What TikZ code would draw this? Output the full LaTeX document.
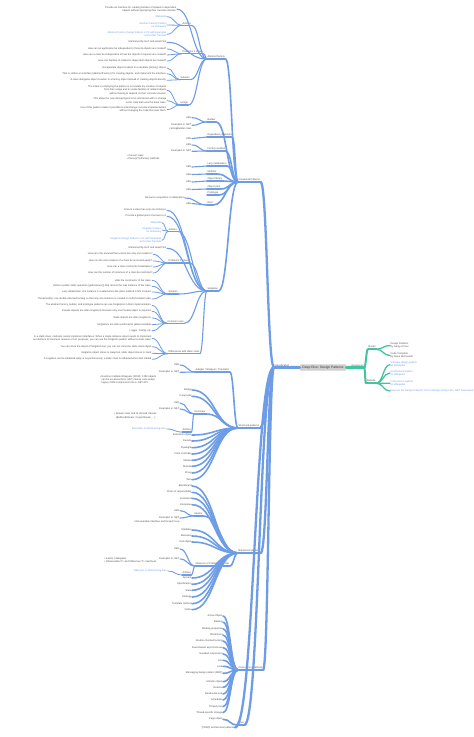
\documentclass[tikz,border=0pt]{standalone}
\usepackage{fontspec}
\setmainfont{Liberation Sans}
\usepackage{tikz}
\usetikzlibrary{calc,positioning}
\definecolor{lblue}{HTML}{6E9DE6}
\definecolor{mint}{HTML}{43C4A0}
\definecolor{ink}{HTML}{4E4E4E}
\definecolor{boxgray}{HTML}{CFCFCF}
\newcommand{\mapfont}{\fontsize{2.5}{3.2}\selectfont}

\begin{document}
\begin{tikzpicture}[x=1pt,y=-1pt,
  every node/.style={font=\mapfont,text=ink,inner sep=0.4pt},
  leaf/.style={anchor=east,align=right}, lnk/.style={leaf,text=lblue},
  rleaf/.style={anchor=west,align=left}, note/.style={anchor=north east,align=left},
  hub/.style={inner ysep=1pt,append after command={(\tikzlastnode.south west) edge[draw=lblue,line width=#1,line cap=round] (\tikzlastnode.south east)}}, hub/.default=1.1pt,
  rhub/.style={inner ysep=1pt,append after command={(\tikzlastnode.south west) edge[draw=mint,line width=#1,line cap=round] (\tikzlastnode.south east)}}, rhub/.default=1.1pt,
  link/.style={draw=lblue,line cap=round,to path={let \p1=(\tikztostart),\p2=(\tikztotarget) in .. controls ({(\x1+\x2)/2},\y1) and ({(\x1+\x2)/2},\y2) .. (\tikztotarget)}},
  l1/.style={link,line width=3pt}, l2/.style={link,line width=2.3pt},
  l3/.style={link,line width=1.6pt}, l4/.style={link,line width=1.1pt}, l5/.style={link,line width=0.8pt}]
  \fill[white] (0,0) rectangle (474,737);
  \useasboundingbox (0,0) rectangle (474,737);

  \node[fill=boxgray,rounded corners=0.8pt,inner xsep=2.6pt,inner ysep=1.5pt,font=\fontsize{3.3}{4}\selectfont,text=ink!70!black] (root) at (323,367.5) {Deep Dive: Design Patterns};
  \node[hub=3pt,anchor=south west] (cls) at (274,367.4) {Classification};
  \draw[l1] (root.west) to (cls.south east);

  \node[rhub=3pt,anchor=south west] (res) at (351,367.4) {Resources};
  \draw[l1,draw=mint] (root.east) to (res.south west);
  \node[rhub=2pt,anchor=south west] (books) at (368,349.2) {Books};
  \node[rhub=2pt,anchor=south west] (web) at (366,383.2) {Website};
  \foreach \nm in {books,web} \draw[l2,draw=mint,line width=2pt] (res.south east) to (\nm.south west);
  \foreach \nm/\yy/\tx in {bk1/345.5/{Design Patterns\\by Gang of Four}, bk2/355.5/{Code Complete\\by Steve McConnell}}
    {\node[rleaf] (\nm) at (390,\yy) {\tx}; \draw[l4,draw=mint,line width=1.3pt] (books.south east) to (\nm.west);}
  \foreach \nm/\yy/\tx in {wb1/364.7/{Software design pattern\\on Wikipedia}, wb2/373/{Architectural pattern\\on Wikipedia}, wb3/383.3/{Concurrency pattern\\on Wikipedia}, wb4/391/{Discover the Design Patterns You're Already Using in the .NET Framework}}
    {\node[rleaf,text=lblue] (\nm) at (390,\yy) {\tx}; \draw[l4,draw=mint,line width=1.3pt] (web.south east) to (\nm.west);}

  \node[hub=2.3pt,anchor=south west] (cre) at (238,182) {Creational Patterns};
  \node[hub=2.3pt,anchor=south west] (str) at (238,428) {Structural patterns};
  \node[hub=2.3pt,anchor=south west] (beh) at (238,553) {Behavioral patterns};
  \node[hub=2.3pt,anchor=south west] (con) at (238,670) {Concurrency patterns};
  \node[hub=2.3pt,anchor=south west] (oth) at (237,725) {Other};
  \node[leaf] (todo) at (235,727.5) {[TODO] architectural patterns};
  \foreach \nm in {cre,str,beh,con,oth} \draw[l2] (cls.south west) to (\nm.south east);
  \draw[l2] (cls.south west) to (todo.east);

  \foreach \nm/\yy/\tx in {af/59/Abstract factory, bui/122/Builder, di/137/Dependency Injection, fm/151/Factory method, li/166/Lazy initialization, mul/174/Multiton, olb/181/Object library, op/189/Object pool, pro/195/Prototype, raii/205/RAII, sgl/291/Singleton}
    {\node[hub=1.6pt,anchor=south west] (\nm) at (207,\yy) {\tx}; \draw[l3] (\nm.south east) to (cre.south west);}
  \foreach \pa/\yy in {di/138.5, li/167, mul/174.5, olb/182, op/189.5, raii/203.5}
    {\node[leaf] (\pa-uml) at (192,\yy) {UML}; \draw[l4] (\pa-uml.east) to (\pa.south west);}
  \node[leaf] (raii-def) at (185,198) {Resource acquisition is initialization};
  \draw[l4] (raii-def.east) to (raii.south west);
  \node[leaf] (bui-uml) at (192,117.7) {UML}; \node[leaf] (bui-ex) at (192,125.3) {Examples in .NET};
  \node[note] (bui-bul) at (192,127.2) {\textbullet\ StringBuilder class};
  \node[leaf] (fm-uml) at (192,145) {UML}; \node[leaf] (fm-ex) at (192,151.3) {Examples in .NET};
  \node[note] (fm-bul) at (160,154.2) {\textbullet\ Convert class\\\textbullet\ Parse()/TryParse() methods};
  \foreach \nm in {bui-uml,bui-ex} \draw[l4] (\nm.east) to (bui.south west);
  \foreach \nm in {fm-uml,fm-ex} \draw[l4] (\nm.east) to (fm.south west);

  \node[leaf] (af-def) at (177,9.2) {Provide an interface for creating families of related or dependent\\objects without specifying their concrete classes.};
  \node[hub,anchor=south west] (af-art) at (182,25.3) {Articles};
  \node[leaf] (af-gof) at (167,42.3) {Mentioned by GoF and Head First};
  \node[hub,anchor=south west] (af-prb) at (182,53.7) {Problems it solves};
  \node[hub,anchor=south west] (af-sol) at (180,79.7) {Solution};
  \node[hub,anchor=south west] (af-use) at (180,105) {Usage};
  \foreach \nm in {af-def,af-gof} \draw[l4] (\nm.east) to (af.south west);
  \foreach \nm in {af-art,af-prb,af-sol,af-use} \draw[l4] (\nm.south east) to (af.south west);
  \foreach \nm/\yy/\tx in {af-l1/16.7/Wikipedia, af-l2/25/{Abstract Factory Pattern\\on DoFactory}, af-l3/34.3/{Abstract Factory Design Pattern in C\# with Examples\\on Dot Net Tutorials}}
    {\node[lnk] (\nm) at (167,\yy) {\tx}; \draw[l5] (\nm.east) to (af-art.south west);}
  \foreach \nm/\yy/\tx in {af-p1/49/How can an application be independent of how its objects are created?, af-p2/55/How can a class be independent of how the objects it requires are created?, af-p3/61/How can families of related or dependent objects be created?}
    {\node[leaf] (\nm) at (167,\yy) {\tx}; \draw[l5] (\nm.east) to (af-prb.south west);}
  \foreach \nm/\yy/\tx in {af-s1/68/Encapsulate object creation in a separate (factory) object., af-s2/73.7/{That is, define an interface (AbstractFactory) for creating objects, and implement the interface.}, af-s3/80.3/A class delegates object creation to a factory object instead of creating objects directly.}
    {\node[leaf] (\nm) at (167,\yy) {\tx}; \draw[l5] (\nm.east) to (af-sol.south west);}
  \foreach \nm/\yy/\tx in {af-u1/90.3/{The intent in employing the pattern is to insulate the creation of objects\\from their usage and to create families of related objects\\without having to depend on their concrete classes.}, af-u2/100.7/{This allows for new derived types to be introduced with no change\\to the code that uses the base class.}, af-u3/109.7/{Use of this pattern makes it possible to interchange concrete implementations\\without changing the code that uses them.}}
    {\node[leaf] (\nm) at (167,\yy) {\tx}; \draw[l5] (\nm.east) to (af-use.south west);}

  \node[leaf] (sg-d1) at (167,210.3) {Ensure a class has only one instance.};
  \node[leaf] (sg-d2) at (167,216.3) {Provide a global point of access to it.};
  \node[hub,anchor=south west] (sg-art) at (168,231.3) {Articles};
  \node[leaf] (sg-gof) at (167,248.3) {Mentioned by GoF and Head First};
  \node[hub,anchor=south west] (sg-prb) at (168,263) {Problems it solves};
  \node[hub,anchor=south west] (sg-sol) at (168,294) {Solution};
  \node[hub,anchor=south west] (sg-cmn) at (167,323.3) {Common uses};
  \node[hub,anchor=south west] (sg-dif) at (168,353.7) {Differences with static class};
  \foreach \nm in {sg-d1,sg-d2,sg-gof} \draw[l4] (\nm.east) to (sgl.south west);
  \foreach \nm in {sg-art,sg-prb,sg-sol,sg-cmn,sg-dif} \draw[l4] (\nm.south east) to (sgl.south west);
  \foreach \nm/\yy/\tx in {sg-l1/222.7/Wikipedia, sg-l2/230/{Singleton Pattern\\on DoFactory}, sg-l3/240.3/{Singleton Design Pattern in C\# with Examples\\on Dot Net Tutorials}}
    {\node[lnk] (\nm) at (162,\yy) {\tx}; \draw[l5] (\nm.east) to (sg-art.south west);}
  \foreach \nm/\yy/\tx in {sg-p1/254.3/How can it be ensured that a class has only one instance?, sg-p2/261/How can the sole instance of a class be accessed easily?, sg-p3/267/How can a class control its instantiation?, sg-p4/273/How can the number of instances of a class be restricted?}
    {\node[leaf] (\nm) at (153,\yy) {\tx}; \draw[l5] (\nm.east) to (sg-prb.south west);}
  \foreach \nm/\yy/\tx in {sg-s1/280.3/Hide the constructor of the class., sg-s2/286.3/Define a public static operation (getInstance()) that returns the sole instance of the class., sg-s3/292/{Lazy initialization: the instance is created when the static method is first invoked.}, sg-s4/299/{Thread safety: use double-checked locking so that only one instance is created in multi-threaded code.}}
    {\node[leaf] (\nm) at (152,\yy) {\tx}; \draw[l5] (\nm.east) to (sg-sol.south west);}
  \foreach \nm/\yy/\tx in {sg-c1/305.3/{The abstract factory, builder, and prototype patterns can use Singletons in their implementation.}, sg-c2/311.3/Facade objects are often singletons because only one Facade object is required., sg-c3/318/State objects are often singletons., sg-c4/324.7/Singletons are often preferred to global variables, sg-c5/330.7/{Logger, Config, etc.}}
    {\node[leaf] (\nm) at (152,\yy) {\tx}; \draw[l5] (\nm.east) to (sg-cmn.south west);}
  \foreach \nm/\yy/\tx in {sg-f1/338.3/{In a static class, methods cannot implement interfaces. When a single instance object needs to implement\\an interface for business reasons or IoC purposes, you can use the Singleton pattern without a static class.}, sg-f2/346.7/{You can clone the object of Singleton but, you can not clone the static class object}, sg-f3/353.3/{Singleton object stores in Heap but, static object stores in stack}, sg-f4/359.3/{A singleton can be initialized lazily or asynchronously; a static class is initialized when first loaded}}
    {\node[leaf] (\nm) at (152,\yy) {\tx}; \draw[l5] (\nm.east) to (sg-dif.south west);}

  \node[hub=1.6pt,anchor=south west] (ada) at (195,372) {Adapter / Wrapper / Translator};
  \node[leaf] (ada-uml) at (180,365) {UML}; \node[leaf] (ada-ex) at (180,372.3) {Examples in .NET};
  \node[note] (ada-bul) at (157,375) {\textbullet\ Runtime Callable Wrappers (RCW): COM objects\\\phantom{\textbullet\ }can be accessed from .NET; interop code wraps\\\phantom{\textbullet\ }legacy COM components into a .NET API};
  \node[hub=1.6pt,anchor=south west] (dec) at (194,414) {Decorator};
  \node[leaf] (dec-uml) at (180,403) {UML}; \node[leaf] (dec-ex) at (180,409) {Examples in .NET};
  \node[note] (dec-bul) at (157,412.5) {\textbullet\ Stream class and its derived classes\\\phantom{\textbullet\ }(BufferedStream, CryptoStream, ...)};
  \node[hub,anchor=south west] (dec-art) at (182,432) {Articles};
  \node[lnk] (dec-l1) at (167,429) {Decorator on Refactoring.Guru};
  \foreach \nm in {ada-uml,ada-ex} \draw[l4] (\nm.east) to (ada.south west);
  \foreach \nm in {dec-uml,dec-ex} \draw[l4] (\nm.east) to (dec.south west);
  \draw[l4] (dec-art.south east) to (dec.south west); \draw[l5] (dec-l1.east) to (dec-art.south west);
  \foreach \nm in {ada,dec} \draw[l3] (\nm.south east) to (str.south west);
  \foreach \nm/\yy/\tx in {bri/390/Bridge, cmp/396.3/Composite, ext/435/Extension object, fac/441/Facade, fly/447.7/Flyweight, frc/454/Front controller, mrk/460.3/Marker, mdl/466.3/Module, prx/473/Proxy, twn/479.7/Twin}
    {\node[leaf] (\nm) at (192,\yy) {\tx}; \draw[l3] (\nm.east) to (str.south west);}

  \node[hub=1.6pt,anchor=south west] (ite) at (194,516) {Iterator};
  \node[leaf] (ite-uml) at (180,510.7) {UML}; \node[leaf] (ite-ex) at (180,518) {Examples in .NET};
  \node[note] (ite-bul) at (180,519.8) {\textbullet\ IEnumerable interface and foreach loop};
  \node[hub=1.6pt,anchor=south west] (obs) at (195,566) {Observer or Publish/subscribe};
  \node[leaf] (obs-uml) at (180,549) {UML}; \node[leaf] (obs-ex) at (180,559) {Examples in .NET};
  \node[note] (obs-bul) at (157,557) {\textbullet\ events / delegates\\\textbullet\ IObservable<T> and IObserver<T> interfaces};
  \node[hub,anchor=south west] (obs-art) at (182,575) {Articles};
  \node[lnk] (obs-l1) at (168,571) {Observer on Refactoring.Guru};
  \foreach \nm in {ite-uml,ite-ex} \draw[l4] (\nm.east) to (ite.south west);
  \foreach \nm in {obs-uml,obs-ex} \draw[l4] (\nm.east) to (obs.south west);
  \draw[l4] (obs-art.south east) to (obs.south west); \draw[l5] (obs-l1.east) to (obs-art.south west);
  \foreach \nm in {ite,obs} \draw[l3] (\nm.south east) to (beh.south west);
  \foreach \nm/\yy/\tx in {bbd/486/Blackboard, cor/492.3/Chain of responsibility, cmd/498.3/Command, itp/504.7/Interpreter, med/530/Mediator, mem/536/Memento, nul/542/Null object, srv/578/Servant, spc/584.3/Specification, sta/590.3/State, stg/597/Strategy, tpl/603.7/Template method, vis/609.7/Visitor}
    {\node[leaf] (\nm) at (192,\yy) {\tx}; \draw[l3] (\nm.east) to (beh.south west);}

  \foreach \nm/\yy/\tx in {act/616/Active Object, blk/622.3/Balking, bnd/628.7/Binding properties, bch/635/Blockchain, dcl/641/Double-checked locking, eba/647.7/Event-based asynchronous, gds/654/Guarded suspension, joi/660.3/Join, lck/666.3/Lock, mdp/673.3/Messaging design pattern (MDP), mon/681.7/Monitor object, rea/687.3/Reactor, rwl/694/Read-write lock, sch/700/Scheduler, tpo/706.7/Thread pool, tss/712.7/Thread-specific storage}
    {\node[leaf] (\nm) at (223,\yy) {\tx}; \draw[l3] (\nm.east) to (con.south west);}
  \node[leaf] (pgo) at (223,719.3) {Page object};
  \draw[l3] (pgo.east) to (oth.south west);
\end{tikzpicture}
\end{document}
